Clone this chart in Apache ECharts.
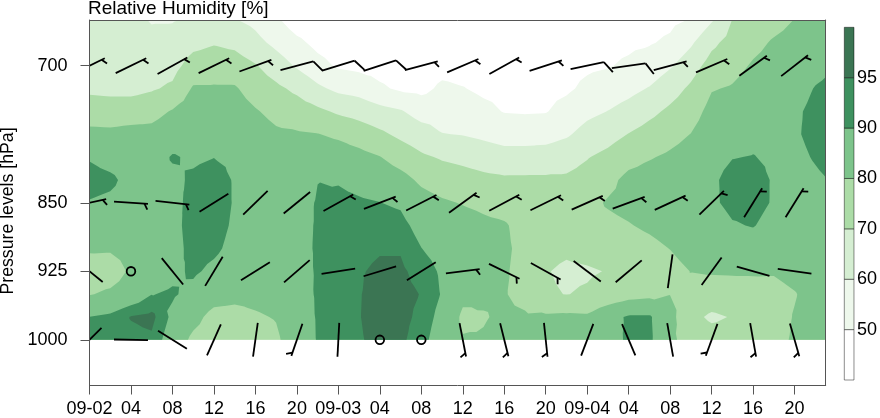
<!DOCTYPE html>
<html>
<head>
<meta charset="utf-8">
<script src="https://cdn.jsdelivr.net/npm/echarts@6/dist/echarts.min.js"></script>
<style>html,body{margin:0;padding:0;background:#fff}#main{width:880px;height:418px}</style>
</head>
<body>
<div id="main"></div>
<script>
// ---------- DATA ----------
const hours = [0,2,4,6,8,10,12,14,16,18,20,22,24,26,28,30,32,34,36,38,40,42,44,46,48,50,52,54,56,58,60,62,64,66,68,70,71];
const levels = [650,675,700,725,750,775,800,825,850,875,900,925,950,975,1000];

const rh650  = [63,62.5,62,59.5,59.5,61,63,60.5,57.5,51.5,45,43,42,42,41.5,41.5,41.5,42,42,42,42.5,43,43,43.5,44,45,46,47,48,50.5,59,70.2,74.5,77,80.2,82,83];
const rh675  = [64.5,64.5,64,62,63,67.3,69.3,67.8,62.9,57.6,52.3,47.4,45,44.5,43.5,43,43,44,44,44,44,44.5,44.5,45,46,48,48.5,49.3,51.6,58.6,67.9,73.5,77.5,81,83,85,86];
const rh700  = [66.5,66,65.5,65.5,66.8,74,75.4,74.6,70.7,65,58.9,53.2,48.8,47.5,46.5,45,45,47,46.5,46,46,46,46,47,48.5,49.5,51.3,54.2,59,65.8,73.8,77,81,83.5,85.5,88,89];
const rh725  = [68,67.2,67,69,71.6,81,81,81,75.8,72,67.9,61.9,57.7,56.2,51.5,48.5,47.5,51.7,50.4,48.2,47.8,47.5,47.5,48.5,52.1,54.5,57.2,60.6,65.9,71.7,79.4,80.8,84,86,87.5,90.3,91];
const rh750  = [75.3,75.2,75.6,76.7,80.8,85,85,84.5,80.8,77.3,75,72.1,68.6,66.3,63.3,60.9,56,55.9,55,52.4,49.6,49.2,49.5,53.5,57.6,60.2,63.5,67.6,71.9,76,83,84.5,86.5,87.5,89,91.5,92.5];
const rh775  = [82.4,82,83,83,86,87.5,87.5,87,84.5,81.5,81,80.3,78.3,75.4,71.9,67.9,64.5,60.3,59.6,58,56,55.5,56.1,58.8,63.4,66.4,70.3,73.7,76.8,80.2,85.5,87.5,88.5,88.5,89.3,91.5,92.5];
const rh800  = [89.4,87,86,86.5,90.6,89,89.9,88.8,87,84.5,84,86,85,83,80.3,75.7,71.5,69,67.5,65.4,63.8,64.2,64.6,66.2,69.5,72.5,76.7,79.3,81.5,84,88,89.8,90.2,89,88.5,90.5,91.5];
const rh825  = [92.5,91.5,87.5,88,88.5,91,92.5,89.5,88.5,86.5,86.5,89.9,89.5,88,86.5,83.5,78.2,75.3,73.9,72.4,71.5,71.5,71.5,71.5,73.5,77.5,82.5,84,85.5,86.5,89,91.8,92,89.5,87.5,89,89.8];
const rh850  = [89.6,88.5,87,87.5,88,92,93,89.5,89,87.5,88,90.4,91.5,90.8,90.1,89,84,81.2,79.5,78,76,74.5,74,73.5,77.5,80.8,82.5,84.5,86.5,87,89,91.5,91.8,89.5,87,88,88.5];
const rh875  = [85.8,84.8,85,86,87.5,93,92.5,89,88.5,87.5,88.5,90.4,92.5,92.5,93,92,87.5,85,84,82,81,76.5,74,73,77.5,78,79.5,81.5,84,86,87,89.5,90.3,88,86,87,87.5];
const rh900  = [81.5,81.2,83,85,87,92.5,91.3,88,87,86.5,88.5,90.5,93,93.5,94.5,94.5,90.1,87.5,86,84,81.5,77.5,72.5,71.5,73,74,76,77.5,80.2,83.5,83.5,86,86.5,85,84.5,86,86.5];
const rh925  = [74.5,75,81.5,86.5,88.5,91,88.5,86,85,85,88,90.5,93,94.5,96,96,93,89,85,83.5,81,77,70.5,68.5,69,70.4,74,75,77,80.2,80.8,81,81,80.8,83,85,85.5];
const rh950  = [79.5,81.7,85,89.8,90.8,88,84,82.5,82.5,83.5,87.5,90.6,93.5,94.7,97,96.5,94.8,89.5,82,81,80.5,77.5,71,69.8,71,73.5,76.5,77.5,79.8,77,75.5,76,76.5,77,79.5,83.5,84.5];
const rh975  = [90.1,91.5,95.3,96.5,88.5,83,77,77,79,80.5,86.5,90.5,93.5,94.8,97,96.5,93.8,87.5,78.5,79.6,81,81,81.5,82,81.5,87,91,91,83,72.5,68.5,70.5,74.5,76.5,80.5,83.5,84.5];
const rh1000 = [93,93,93.5,94,86,78,75,73,76,78.5,85.5,90.4,93.5,94.5,96.5,96,92.5,85.5,80.5,80.5,82,83,84,84.5,84,86,91.5,91.5,82,76,74,74,75.5,77.5,81,84,85];
const rhRows = [rh650,rh675,rh700,rh725,rh750,rh775,rh800,rh825,rh850,rh875,rh900,rh925,rh950,rh975,rh1000];

const bandLevels = [50,60,70,80,90,95];
const bandColors = ['#eef8ec','#d5eed2','#acdca7','#7dc48b','#3e915f','#3b7553'];
const colorbarColors = ['#ffffff','#eef8ec','#d5eed2','#acdca7','#7dc48b','#3e915f','#3b7553'];
const colorbarLabels = ['50','60','70','80','90','95'];

const xTickValues = [0,4,8,12,16,20,24,28,32,36,40,44,48,52,56,60,64,68];
const xTickLabels = ['09-02','04','08','12','16','20','09-03','04','08','12','16','20','09-04','04','08','12','16','20'];
const yTickValues = [700,850,925,1000];
const yTickLabels = ['700','850','925','1000'];

// wind barbs (direction in degrees, speed: 0 calm, 2 staff only, 5 half barb, 10 full barb)
const windTimes = [0,4,8,12,16,20,24,28,32,36,40,44,48,52,56,60,64,68];
const windLevels = [700,850,925,1000];
const dir700  = [64,64,61,64,70,75,73,72,75,67,61,72,78,82,75,67,54,52];
const spd700  = [5,5,5,5,5,10,10,10,5,5,5,5,10,10,5,5,5,5];
const dir850  = [78,94,96,58,46,51,61,69,63,54,62,64,66,70,65,46,32,32];
const spd850  = [5,5,5,2,2,2,5,5,5,5,5,5,5,5,5,5,5,5];
const dir925  = [129,0,141,31,58,49,81,73,58,83,116,119,127,50,8,36,106,98];
const spd925  = [2,0,2,2,2,2,2,2,2,5,5,5,2,2,2,2,2,2];
const dir1000 = [45,91,122,24,8,199,3,0,0,169,166,174,21,157,170,200,170,164];
const spd1000 = [2,2,2,2,2,5,2,0,0,5,5,5,2,2,2,5,5,5];
const windDirs = [dir700,dir850,dir925,dir1000];
const windSpds = [spd700,spd850,spd925,spd1000];

// ---------- RENDER ----------
const FONT = 'Liberation Sans, Arial, Helvetica, sans-serif';

function clipTri(poly, k) {
  const out = [];
  for (let i = 0; i < poly.length; i++) {
    const a = poly[i], b = poly[(i + 1) % poly.length];
    const ina = a[2] >= k, inb = b[2] >= k;
    if (ina) out.push(a);
    if (ina !== inb) {
      const f = (k - a[2]) / (b[2] - a[2]);
      out.push([a[0] + f * (b[0] - a[0]), a[1] + f * (b[1] - a[1]), k]);
    }
  }
  return out;
}

function bandPath(k, api) {
  const parts = [];
  for (let j = 0; j < levels.length - 1; j++) {
    for (let i = 0; i < hours.length - 1; i++) {
      const p00 = [hours[i], levels[j], rhRows[j][i]];
      const p10 = [hours[i + 1], levels[j], rhRows[j][i + 1]];
      const p11 = [hours[i + 1], levels[j + 1], rhRows[j + 1][i + 1]];
      const p01 = [hours[i], levels[j + 1], rhRows[j + 1][i]];
      const cc = [(hours[i] + hours[i + 1]) / 2, (levels[j] + levels[j + 1]) / 2,
                  (p00[2] + p10[2] + p11[2] + p01[2]) / 4];
      const tris = [[p00, p10, cc], [p10, p11, cc], [p11, p01, cc], [p01, p00, cc]];
      for (const tri of tris) {
        const poly = clipTri(tri, k);
        if (poly.length < 3) continue;
        let s = '';
        poly.forEach((q, n) => {
          const xy = api.coord([q[0], q[1]]);
          s += (n ? 'L' : 'M') + xy[0].toFixed(2) + ' ' + xy[1].toFixed(2);
        });
        parts.push(s + 'Z');
      }
    }
  }
  return parts.join('');
}

function renderBand(params, api) {
  const idx = api.value(2);
  const d = bandPath(bandLevels[idx], api);
  if (!d) return null;
  return { type: 'path', shape: { pathData: d }, style: { fill: bandColors[idx], stroke: null }, z2: idx };
}

function renderBarb(params, api) {
  const c = api.coord([api.value(0), api.value(1)]);
  const dir = api.value(2), spd = api.value(3);
  const style = { stroke: '#000', lineWidth: 1.8, fill: null };
  if (spd === 0) {
    return { type: 'circle', shape: { cx: c[0], cy: c[1], r: 4.3 }, style: style };
  }
  const a = dir * Math.PI / 180;
  const ux = Math.sin(a), uy = -Math.cos(a);
  const half = 17;
  const ex = c[0] + ux * half, ey = c[1] + uy * half;
  const children = [{ type: 'line', shape: { x1: c[0] - ux * half, y1: c[1] - uy * half, x2: ex, y2: ey }, style: style }];
  const cs = Math.cos(Math.PI / 3), sn = Math.sin(Math.PI / 3);
  const fx = ux * cs - uy * sn, fy = ux * sn + uy * cs;
  let s = spd, pos = 0;
  while (s >= 10) {
    const bx = ex - ux * pos, by = ey - uy * pos;
    children.push({ type: 'line', shape: { x1: bx, y1: by, x2: bx + fx * 13.5, y2: by + fy * 13.5 }, style: style });
    pos += 4; s -= 10;
  }
  if (s >= 5) {
    if (pos === 0) pos = 3.5;
    const bx = ex - ux * pos, by = ey - uy * pos;
    children.push({ type: 'line', shape: { x1: bx, y1: by, x2: bx + fx * 6.5, y2: by + fy * 6.5 }, style: style });
  }
  return { type: 'group', children: children };
}

function renderColorbar(params, api) {
  const i = api.value(1);
  const p0 = api.coord([0, i]), p1 = api.coord([1, i + 1]);
  return { type: 'rect', shape: { x: p0[0], y: p1[1], width: p1[0] - p0[0], height: p0[1] - p1[1] },
           style: { fill: colorbarColors[i], stroke: 'rgba(0,0,0,0.45)', lineWidth: 1 } };
}

const barbData = [];
windLevels.forEach((L, li) => {
  windTimes.forEach((t, n) => barbData.push([t, L, windDirs[li][n], windSpds[li][n]]));
});

const frameLine = { show: true, onZero: false, lineStyle: { color: '#555', width: 1 } };
const labelStyle = { color: '#000', fontSize: 18, fontFamily: FONT };

const chart = echarts.init(document.getElementById('main'), null, { renderer: 'canvas' });
chart.setOption({
  animation: false,
  backgroundColor: '#fff',
  title: { text: 'Relative Humidity [%]', left: 88, top: -0.5, padding: 0,
           textStyle: { fontSize: 19, fontWeight: 'normal', color: '#000', fontFamily: FONT } },
  graphic: [{ type: 'text', x: 8, y: 211, rotation: Math.PI / 2,
              style: { text: 'Pressure levels [hPa]', fontSize: 17.7, fontFamily: FONT, fill: '#000',
                       textAlign: 'center', textVerticalAlign: 'middle' } }],
  grid: [
    { left: 89.5, right: 54.3, top: 20, bottom: 31, containLabel: false },
    { left: 844.3, top: 27.3, width: 12.4, height: 352.7 }
  ],
  xAxis: [
    { type: 'value', gridIndex: 0, min: 0, max: 71, z: 10, position: 'bottom',
      axisLine: frameLine, splitLine: { show: false },
      axisTick: { show: true, length: 9, customValues: xTickValues, lineStyle: { color: '#555' } },
      axisLabel: Object.assign({ margin: 14.5, customValues: xTickValues,
        formatter: v => xTickLabels[xTickValues.indexOf(v)] }, labelStyle) },
    { type: 'value', gridIndex: 0, min: 0, max: 71, z: 10, position: 'top',
      axisLine: frameLine, axisTick: { show: false }, axisLabel: { show: false }, splitLine: { show: false } },
    { type: 'value', gridIndex: 1, min: 0, max: 1, show: false }
  ],
  yAxis: [
    { type: 'value', gridIndex: 0, min: 650, max: 1050, inverse: true, z: 10, position: 'left',
      axisLine: frameLine, splitLine: { show: false },
      axisTick: { show: true, length: 9, customValues: yTickValues, lineStyle: { color: '#555' } },
      axisLabel: Object.assign({ margin: 22, customValues: yTickValues,
        formatter: v => yTickLabels[yTickValues.indexOf(v)] }, labelStyle) },
    { type: 'value', gridIndex: 0, min: 650, max: 1050, inverse: true, z: 10, position: 'right',
      axisLine: frameLine, axisTick: { show: false }, axisLabel: { show: false }, splitLine: { show: false } },
    { type: 'value', gridIndex: 1, min: 0, max: 7, position: 'right',
      axisLine: { show: false }, axisTick: { show: false }, splitLine: { show: false },
      axisLabel: Object.assign({ margin: 3, customValues: [1,2,3,4,5,6],
        formatter: v => colorbarLabels[v - 1] }, labelStyle) }
  ],
  series: [
    { type: 'custom', name: 'rh', xAxisIndex: 0, yAxisIndex: 0, clip: true, silent: true, z: 2,
      renderItem: renderBand, encode: { x: 0, y: 1 },
      data: bandLevels.map((k, i) => [0, 1000, i]) },
    { type: 'custom', name: 'wind', xAxisIndex: 0, yAxisIndex: 0, clip: true, silent: true, z: 4,
      renderItem: renderBarb, encode: { x: 0, y: 1 }, data: barbData },
    { type: 'custom', name: 'colorbar', xAxisIndex: 2, yAxisIndex: 2, silent: true, z: 2,
      renderItem: renderColorbar, encode: { x: 0, y: 1 },
      data: colorbarColors.map((c, i) => [0, i]) }
  ]
});
</script>
</body>
</html>
